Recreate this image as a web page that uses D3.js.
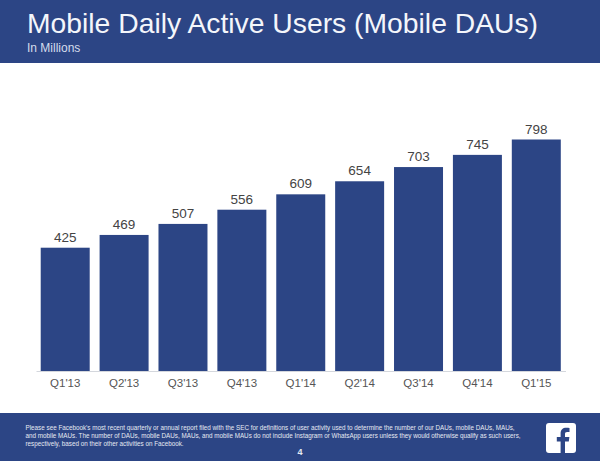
<!DOCTYPE html>
<html>
<head>
<meta charset="utf-8">
<script src="https://cdn.jsdelivr.net/npm/d3@7"></script>
<style>
  html, body { margin: 0; padding: 0; background: #fff; }
  svg { display: block; }
  text { font-family: "Liberation Sans", Arial, sans-serif; }
</style>
</head>
<body>
<svg id="chart"></svg>
<script>
const quarters = ["Q1'13", "Q2'13", "Q3'13", "Q4'13", "Q1'14", "Q2'14", "Q3'14", "Q4'14", "Q1'15"];
const dau = [425, 469, 507, 556, 609, 654, 703, 745, 798];
const footnote = [
  "Please see Facebook's most recent quarterly or annual report filed with the SEC for definitions of user activity used to determine the number of our DAUs, mobile DAUs, MAUs,",
  "and mobile MAUs. The number of DAUs, mobile DAUs, MAUs, and mobile MAUs do not include Instagram or WhatsApp users unless they would otherwise qualify as such users,",
  "respectively, based on their other activities on Facebook."
];

const width = 600, height = 461;
const blue = '#2c4585';

const svg = d3.select('#chart').attr('width', width).attr('height', height);

// header
svg.append('rect').attr('width', width).attr('height', 63).attr('fill', blue);
svg.append('text').attr('x', 27).attr('y', 33)
  .attr('font-size', 28.3).attr('fill', '#f4f6fb')
  .text('Mobile Daily Active Users (Mobile DAUs)');
svg.append('text').attr('x', 27).attr('y', 52)
  .attr('font-size', 12).attr('fill', '#d5dcec')
  .text('In Millions');

// bars
const x = d3.scaleBand()
  .domain(quarters)
  .range([36, 565.5])
  .paddingInner(0.168)
  .paddingOuter(0.08);

const y = d3.scaleLinear()
  .domain([0, 798])
  .range([371, 139.5]);

const rows = quarters.map((q, i) => ({ q, v: dau[i] }));

svg.selectAll('.bar')
  .data(rows)
  .enter()
  .append('rect')
  .attr('class', 'bar')
  .attr('x', d => x(d.q))
  .attr('y', d => y(d.v))
  .attr('width', x.bandwidth())
  .attr('height', d => y(0) - y(d.v))
  .attr('fill', blue);

svg.selectAll('.val')
  .data(rows)
  .enter()
  .append('text')
  .attr('class', 'val')
  .attr('x', d => x(d.q) + x.bandwidth() / 2)
  .attr('y', d => y(d.v) - 6)
  .attr('text-anchor', 'middle')
  .attr('font-size', 13.5)
  .attr('fill', '#444')
  .text(d => d.v);

const axis = svg.append('g')
  .attr('transform', 'translate(0,371)')
  .call(d3.axisBottom(x).tickSize(0).tickPadding(8));
axis.select('.domain').attr('stroke', '#d4d7dd');
axis.selectAll('text')
  .style('font-family', '"Liberation Sans", Arial, sans-serif')
  .attr('font-size', 11.5)
  .attr('fill', '#555');

// footer
svg.append('rect').attr('y', 413).attr('width', width).attr('height', 48).attr('fill', blue);
svg.append('g').selectAll('text')
  .data(footnote)
  .enter()
  .append('text')
  .attr('x', 25.5)
  .attr('y', (d, i) => 430 + i * 8.2)
  .attr('font-size', 6.3)
  .attr('fill', '#e6eaf3')
  .text(d => d);
svg.append('text').attr('x', 300).attr('y', 455)
  .attr('text-anchor', 'middle')
  .attr('font-size', 9).attr('font-weight', 'bold').attr('fill', '#e6eaf3')
  .text('4');

// logo
svg.append('rect').attr('x', 546).attr('y', 423).attr('width', 30).attr('height', 30)
  .attr('rx', 3).attr('fill', '#fff');
svg.append('path')
  .attr('fill', blue)
  .attr('d', 'M565 453V441.5h3.8l.6-4.5H565v-2.8c0-1.3.4-2.2 2.2-2.2h2.3v-4c-.4-.1-1.8-.2-3.3-.2-3.3 0-5.6 2-5.6 5.7V437h-3.8v4.5h3.8V453z');
</script>
</body>
</html>
